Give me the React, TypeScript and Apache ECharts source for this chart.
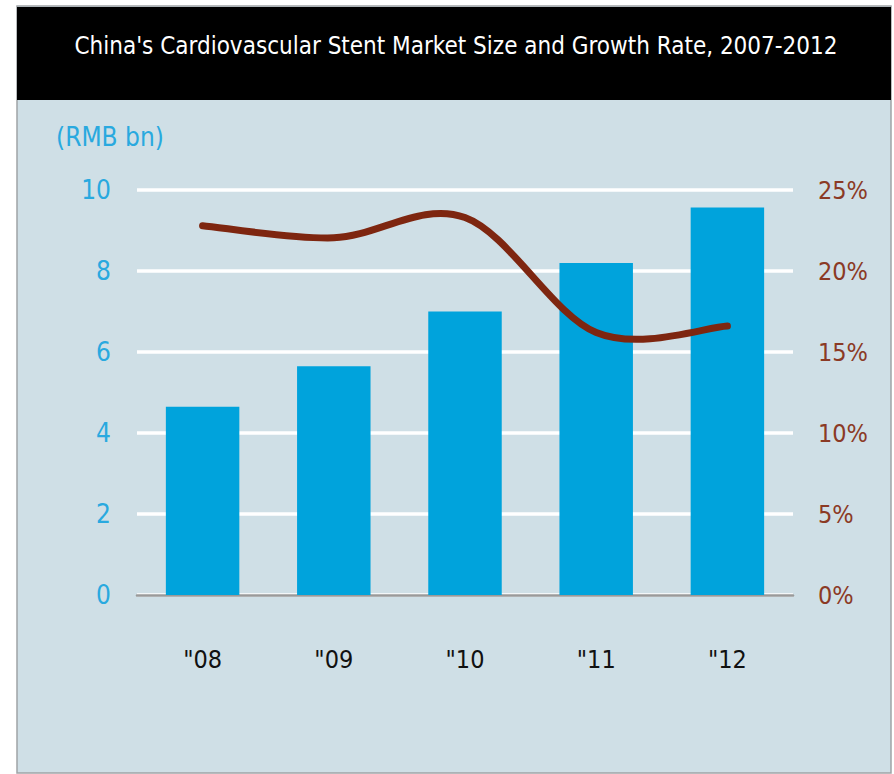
import React, { useEffect, useRef } from "react";
import * as echarts from "echarts";

const categories = ['"08', '"09', '"10', '"11', '"12'];
const marketSize = [4.65, 5.65, 7.0, 8.2, 9.57];
const growthRate = [22.8, 22.05, 23.3, 16.2, 16.6];
const leftTicks = { min: 0, max: 10, interval: 2 };
const rightTicks = { min: 0, max: 25, interval: 5 };
const titleText = "China's Cardiovascular Stent Market Size and Growth Rate, 2007-2012";
const unitText = "(RMB bn)";

const FONT = '"DejaVu Sans Condensed", "Liberation Sans Narrow", "Liberation Sans", sans-serif';

function catmullRomPath(pts: number[][]): string {
  if (pts.length === 0) return "";
  let d = `M${pts[0][0]},${pts[0][1]}`;
  for (let i = 0; i < pts.length - 1; i++) {
    const p0 = pts[Math.max(0, i - 1)];
    const p1 = pts[i];
    const p2 = pts[i + 1];
    const p3 = pts[Math.min(pts.length - 1, i + 2)];
    const c1x = p1[0] + (p2[0] - p0[0]) / 6;
    const c1y = p1[1] + (p2[1] - p0[1]) / 6;
    const c2x = p2[0] - (p3[0] - p1[0]) / 6;
    const c2y = p2[1] - (p3[1] - p1[1]) / 6;
    d += ` C${c1x},${c1y} ${c2x},${c2y} ${p2[0]},${p2[1]}`;
  }
  return d;
}

export default function App() {
  const ref = useRef<HTMLDivElement>(null);
  useEffect(() => {
    document.body.style.margin = "0";
    const chart = echarts.init(ref.current!, null, { renderer: "svg" });
    chart.setOption({
      animation: false,
      backgroundColor: "#ffffff",
      graphic: [
        {
          type: "rect",
          shape: { x: 17, y: 6, width: 874, height: 767 },
          style: { fill: "#cfdfe6", stroke: "#a0a4a6", lineWidth: 1.5 },
          z: -10,
        },
        {
          type: "rect",
          shape: { x: 17, y: 7, width: 874, height: 93 },
          style: { fill: "#000000" },
          z: -9,
        },
        {
          type: "text",
          x: 456,
          y: 46,
          style: {
            text: titleText,
            fill: "#ffffff",
            font: `24px ${FONT}`,
            align: "center",
            verticalAlign: "middle",
          },
        },
        {
          type: "text",
          x: 56,
          y: 137,
          style: {
            text: unitText,
            fill: "#29a9df",
            font: `26px ${FONT}`,
            align: "left",
            verticalAlign: "middle",
          },
        },
      ],
      grid: { left: 137, right: 101, top: 190, bottom: 179 },
      xAxis: {
        type: "category",
        data: categories,
        axisLine: { show: true, lineStyle: { color: "#9a9a9a", width: 2.5 } },
        axisTick: { show: false },
        axisLabel: { color: "#111111", fontSize: 25, fontFamily: FONT, margin: 52 },
      },
      yAxis: [
        {
          type: "value",
          ...leftTicks,
          axisLine: { show: false },
          axisTick: { show: false },
          splitLine: { show: true, lineStyle: { color: "#ffffff", width: 3.5 } },
          axisLabel: { color: "#29a9df", fontSize: 26, fontFamily: FONT, margin: 26 },
        },
        {
          type: "value",
          ...rightTicks,
          axisLine: { show: false },
          axisTick: { show: false },
          splitLine: { show: false },
          axisLabel: {
            color: "#8b3a25",
            fontSize: 25,
            fontFamily: FONT,
            margin: 25,
            formatter: (v: number) => `${v}%`,
          },
        },
      ],
      series: [
        {
          type: "bar",
          data: marketSize,
          barWidth: "56%",
          itemStyle: { color: "#00a3dc" },
          yAxisIndex: 0,
        },
        {
          type: "custom",
          yAxisIndex: 1,
          data: growthRate.map((v, i) => [i, v]),
          z: 5,
          renderItem: (params: any, api: any) => {
            if (params.dataIndex !== 0) return null;
            const pts = growthRate.map((v, i) => api.coord([i, v]));
            return {
              type: "path",
              shape: { pathData: catmullRomPath(pts) },
              style: {
                fill: "none",
                stroke: "#7e2610",
                lineWidth: 7,
                lineCap: "round",
                lineJoin: "round",
              },
            };
          },
        },
      ],
    });
    return () => chart.dispose();
  }, []);
  return <div ref={ref} style={{ width: 894, height: 774 }} />;
}
